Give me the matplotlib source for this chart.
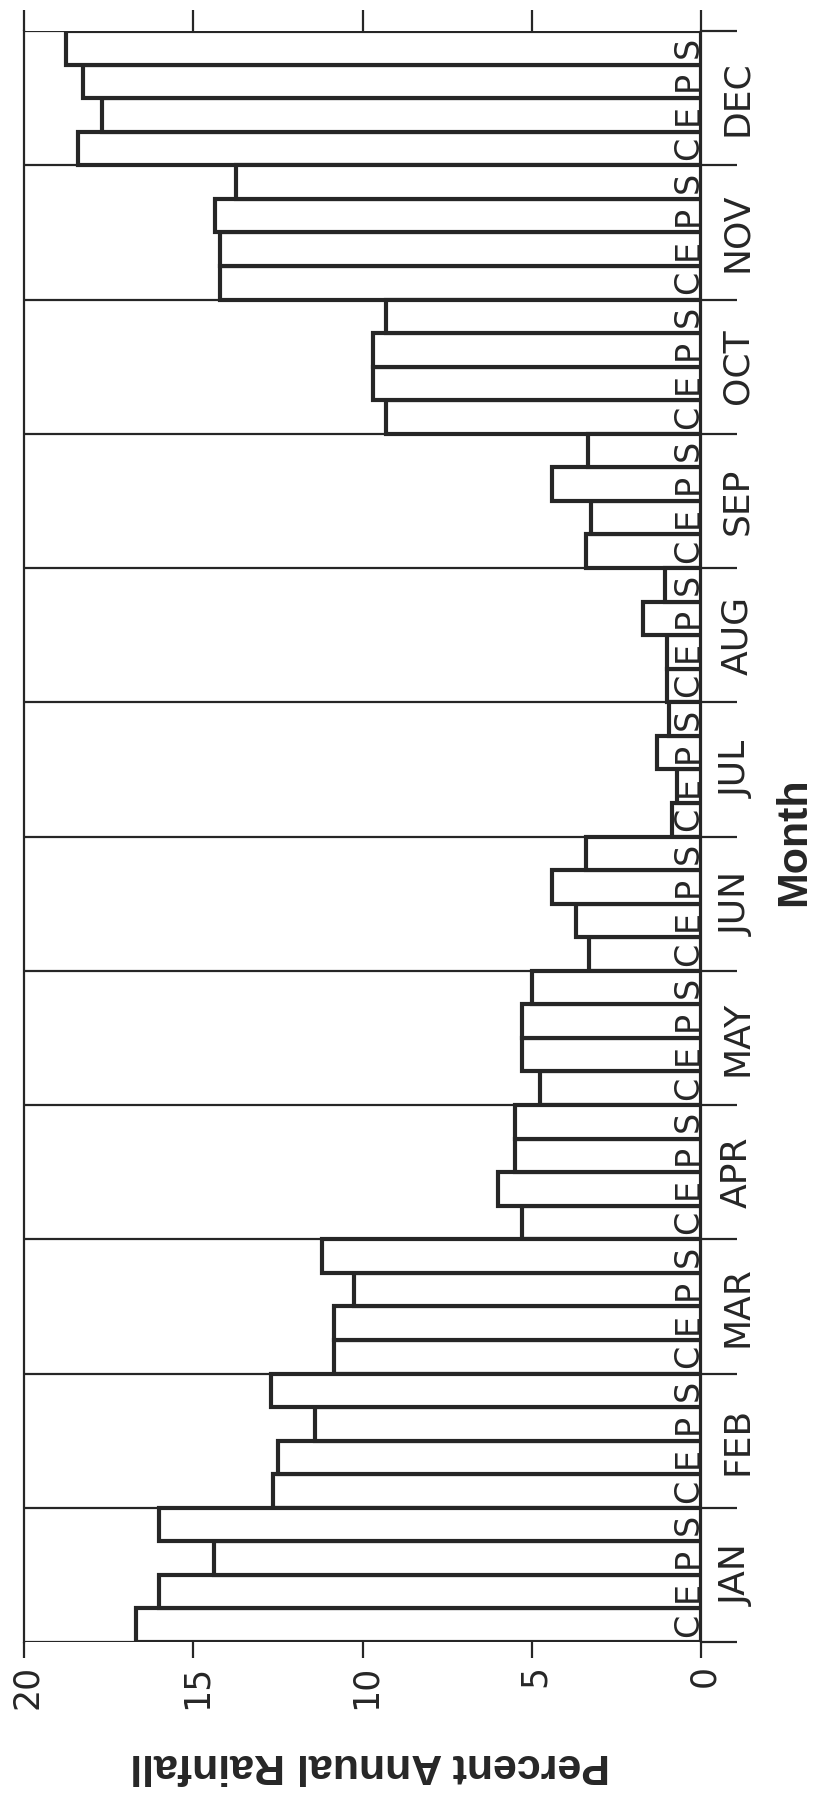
import numpy as np
import matplotlib
matplotlib.use("Agg")
import matplotlib.pyplot as plt
import matplotlib.transforms as mtransforms

# ---- data (percent of annual rainfall) ----
months = ["JAN", "FEB", "MAR", "APR", "MAY", "JUN", "JUL", "AUG", "SEP", "OCT", "NOV", "DEC"]
series_letters = ["C", "E", "P", "S"]
C_vals = [16.7, 12.65, 10.85, 5.3, 4.75, 3.3, 0.85, 1.0, 3.4, 9.3, 14.2, 18.4]
E_vals = [16.0, 12.5, 10.85, 6.0, 5.3, 3.7, 0.7, 1.0, 3.25, 9.7, 14.2, 17.7]
P_vals = [14.4, 11.4, 10.25, 5.5, 5.3, 4.4, 1.3, 1.7, 4.4, 9.7, 14.35, 18.25]
S_vals = [16.0, 12.7, 11.2, 5.5, 5.0, 3.4, 0.95, 1.05, 3.35, 9.3, 13.75, 18.75]
value_ticks = [0, 5, 10, 15, 20]
value_ticklabels = ["0", "5", "10", "15", "20"]
xlabel = "Percent Annual Rainfall"
ylabel = "Month"

series = [C_vals, E_vals, P_vals, S_vals]

W, H = 817, 1807
DPI = 100
ink = "#262626"

fig = plt.figure(figsize=(W / DPI, H / DPI), dpi=DPI, facecolor="white")
ax_left, ax_right = 24 / W, 701 / W
ax_top, ax_bot = 1 - 31 / H, 1 - 1642 / H
ax = fig.add_axes([ax_left, ax_bot, ax_right - ax_left, ax_top - ax_bot])

n = len(months)
nser = len(series)
bh = 1.0 / nser
ypos = np.arange(n)

# month divider lines
ax.hlines(np.arange(n + 1), 20, 0, color=ink, lw=1.6, zorder=1)

for k, vals in enumerate(series):
    ax.barh(ypos + k * bh, vals, height=bh, left=0, align="edge",
            facecolor="white", edgecolor=ink, linewidth=3.0, zorder=2)

ax.set_xlim(20, 0)
ax.set_ylim(0, n)

for s in ["top", "bottom"]:
    ax.spines[s].set_visible(False)
for s in ["left", "right"]:
    ax.spines[s].set_color(ink)
    ax.spines[s].set_linewidth(1.6)
    ax.spines[s].set_zorder(3)

# value ticks (bottom, labelled)
ax.set_xticks(value_ticks)
ax.set_xticklabels(value_ticklabels)
ax.tick_params(axis="x", which="major", direction="out", length=16 * 0.72,
               width=1.6, color=ink, pad=5, labelsize=25, labelcolor=ink,
               top=False, bottom=True)
for lab in ax.get_xticklabels():
    lab.set_rotation(90)
    lab.set_rotation_mode("anchor")
    lab.set_ha("right")
    lab.set_va("center_baseline")

# value ticks (top, unlabelled)
secx = ax.secondary_xaxis("top")
secx.set_xticks(value_ticks)
secx.set_xticklabels([])
secx.tick_params(direction="out", length=21 * 0.72, width=1.6, color=ink)
secx.spines["top"].set_visible(False)

# month boundary ticks on right
ax.yaxis.tick_right()
ax.set_yticks(np.arange(n + 1))
ax.set_yticklabels([])
ax.tick_params(axis="y", direction="out", length=36 * 0.72, width=1.6, color=ink,
               left=False, right=True)

# series letters inside bars, next to zero line
off = mtransforms.ScaledTranslation(-3 / DPI, 0, fig.dpi_scale_trans)
for i in range(n):
    for k, letter in enumerate(series_letters):
        ax.text(0, i + k * bh + bh / 2, letter, transform=ax.transData + off,
                rotation=90, rotation_mode="anchor", ha="center", va="baseline",
                fontsize=24, color=ink, family="DejaVu Sans", zorder=4)

# month labels
blend = mtransforms.blended_transform_factory(ax.transAxes, ax.transData)
ax_w_px = (ax_right - ax_left) * W
for i, m in enumerate(months):
    ax.text(1 + 46 / ax_w_px, i + 0.5, m, transform=blend, rotation=90,
            rotation_mode="anchor", ha="center", va="baseline",
            fontsize=26, color=ink, family="DejaVu Sans", clip_on=False)

# axis titles
fig.text(370 / W, 1 - 1765 / H, xlabel, rotation=180, ha="center", va="center",
         fontsize=31, fontweight="bold", family="Liberation Sans", color=ink)
fig.text(805 / W, 1 - 842 / H, ylabel, rotation=90, rotation_mode="anchor",
         ha="center", va="baseline", fontsize=31, fontweight="bold",
         family="Liberation Sans", color=ink)

fig.savefig("out.png", dpi=DPI, facecolor="white")
